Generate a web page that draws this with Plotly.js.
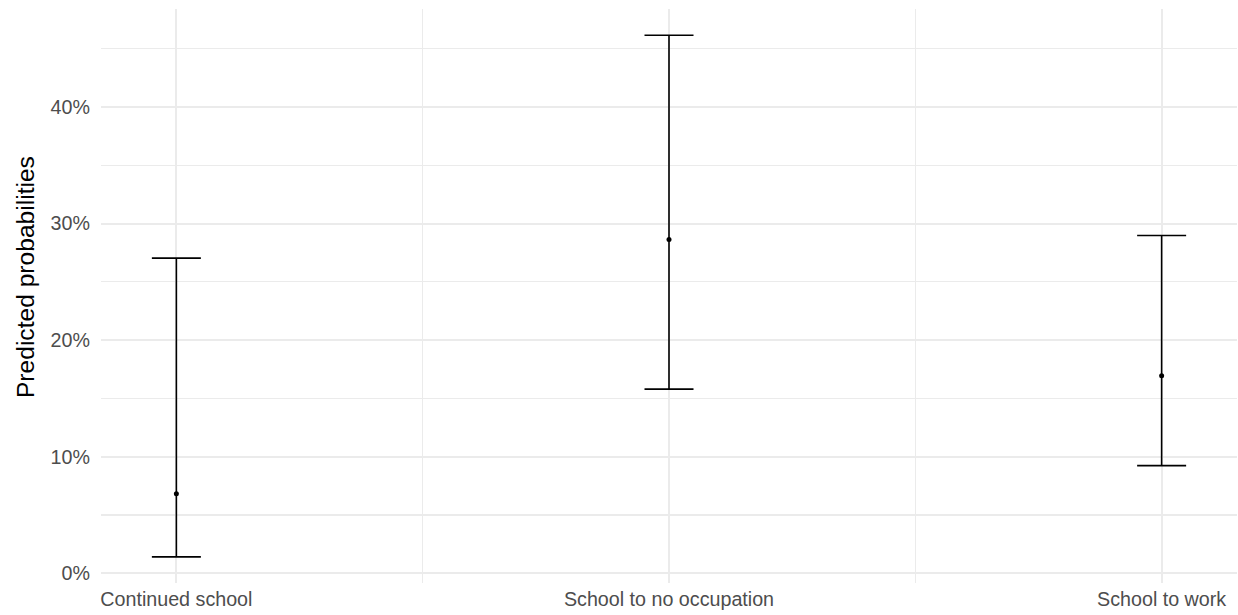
<!DOCTYPE html>
<html>
<head>
<meta charset="utf-8">
<script src="https://cdn.plot.ly/plotly-3.0.1.min.js"></script>
<style>
  html, body { margin: 0; padding: 0; background: #ffffff; }
  #chart { width: 1238px; height: 615px; }
</style>
</head>
<body>
<div id="chart"></div>
<script>
// Data (percent)
const categories = ["Continued school", "School to no occupation", "School to work"];
const predicted = [6.82, 28.64, 16.94];
const lower = [1.41, 15.80, 9.24];
const upper = [27.03, 46.15, 28.97];
const yTickVals = [0, 10, 20, 30, 40];
const yTickText = ["0%", "10%", "20%", "30%", "40%"];
const yTitle = "Predicted probabilities";

const xIdx = categories.map((c, i) => i);
const errPlus = predicted.map((v, i) => upper[i] - v);
const errMinus = predicted.map((v, i) => v - lower[i]);
const minorX = categories.slice(1).map((c, i) => i + 0.5);

const trace = {
  type: "scatter",
  mode: "markers",
  x: xIdx,
  y: predicted,
  marker: { color: "#000000", size: 5 },
  error_y: {
    type: "data",
    symmetric: false,
    array: errPlus,
    arrayminus: errMinus,
    color: "#000000",
    thickness: 1.6,
    width: 24.5
  },
  hoverinfo: "x+y",
  showlegend: false
};

const fontFam = "Liberation Sans, Arial, Helvetica, sans-serif";

const layout = {
  width: 1238,
  height: 615,
  margin: { l: 101, r: 1, t: 9, b: 32 },
  paper_bgcolor: "#ffffff",
  plot_bgcolor: "#ffffff",
  font: { family: fontFam, color: "#4D4D4D" },
  showlegend: false,
  xaxis: {
    type: "linear",
    range: [-0.153, 2.153],
    tickmode: "array",
    tickvals: xIdx,
    ticktext: categories,
    showgrid: true,
    gridcolor: "#EBEBEB",
    gridwidth: 2,
    zeroline: false,
    showline: false,
    ticks: "",
    tickfont: { size: 19.7, color: "#4D4D4D", family: fontFam },
    ticklabelstandoff: 2,
    minor: {
      tickmode: "array",
      tickvals: minorX,
      showgrid: true,
      gridcolor: "#EBEBEB",
      gridwidth: 1.1,
      ticks: ""
    },
    fixedrange: true
  },
  yaxis: {
    range: [-0.83, 48.4],
    tickmode: "array",
    tickvals: yTickVals,
    ticktext: yTickText,
    showgrid: true,
    gridcolor: "#EBEBEB",
    gridwidth: 2,
    zeroline: false,
    showline: false,
    ticks: "",
    tickfont: { size: 19.7, color: "#4D4D4D", family: fontFam },
    ticklabelstandoff: 10,
    minor: {
      dtick: 5,
      tick0: 0,
      showgrid: true,
      gridcolor: "#EBEBEB",
      gridwidth: 1.1,
      ticks: ""
    },
    fixedrange: true
  },
  annotations: [{
    text: yTitle,
    xref: "paper",
    yref: "paper",
    x: -0.0669,
    y: 0.533,
    xanchor: "center",
    yanchor: "middle",
    textangle: -90,
    showarrow: false,
    font: { size: 24.6, color: "#000000", family: fontFam }
  }]
};

Plotly.newPlot("chart", [trace], layout, { displayModeBar: false, staticPlot: true });
</script>
</body>
</html>
